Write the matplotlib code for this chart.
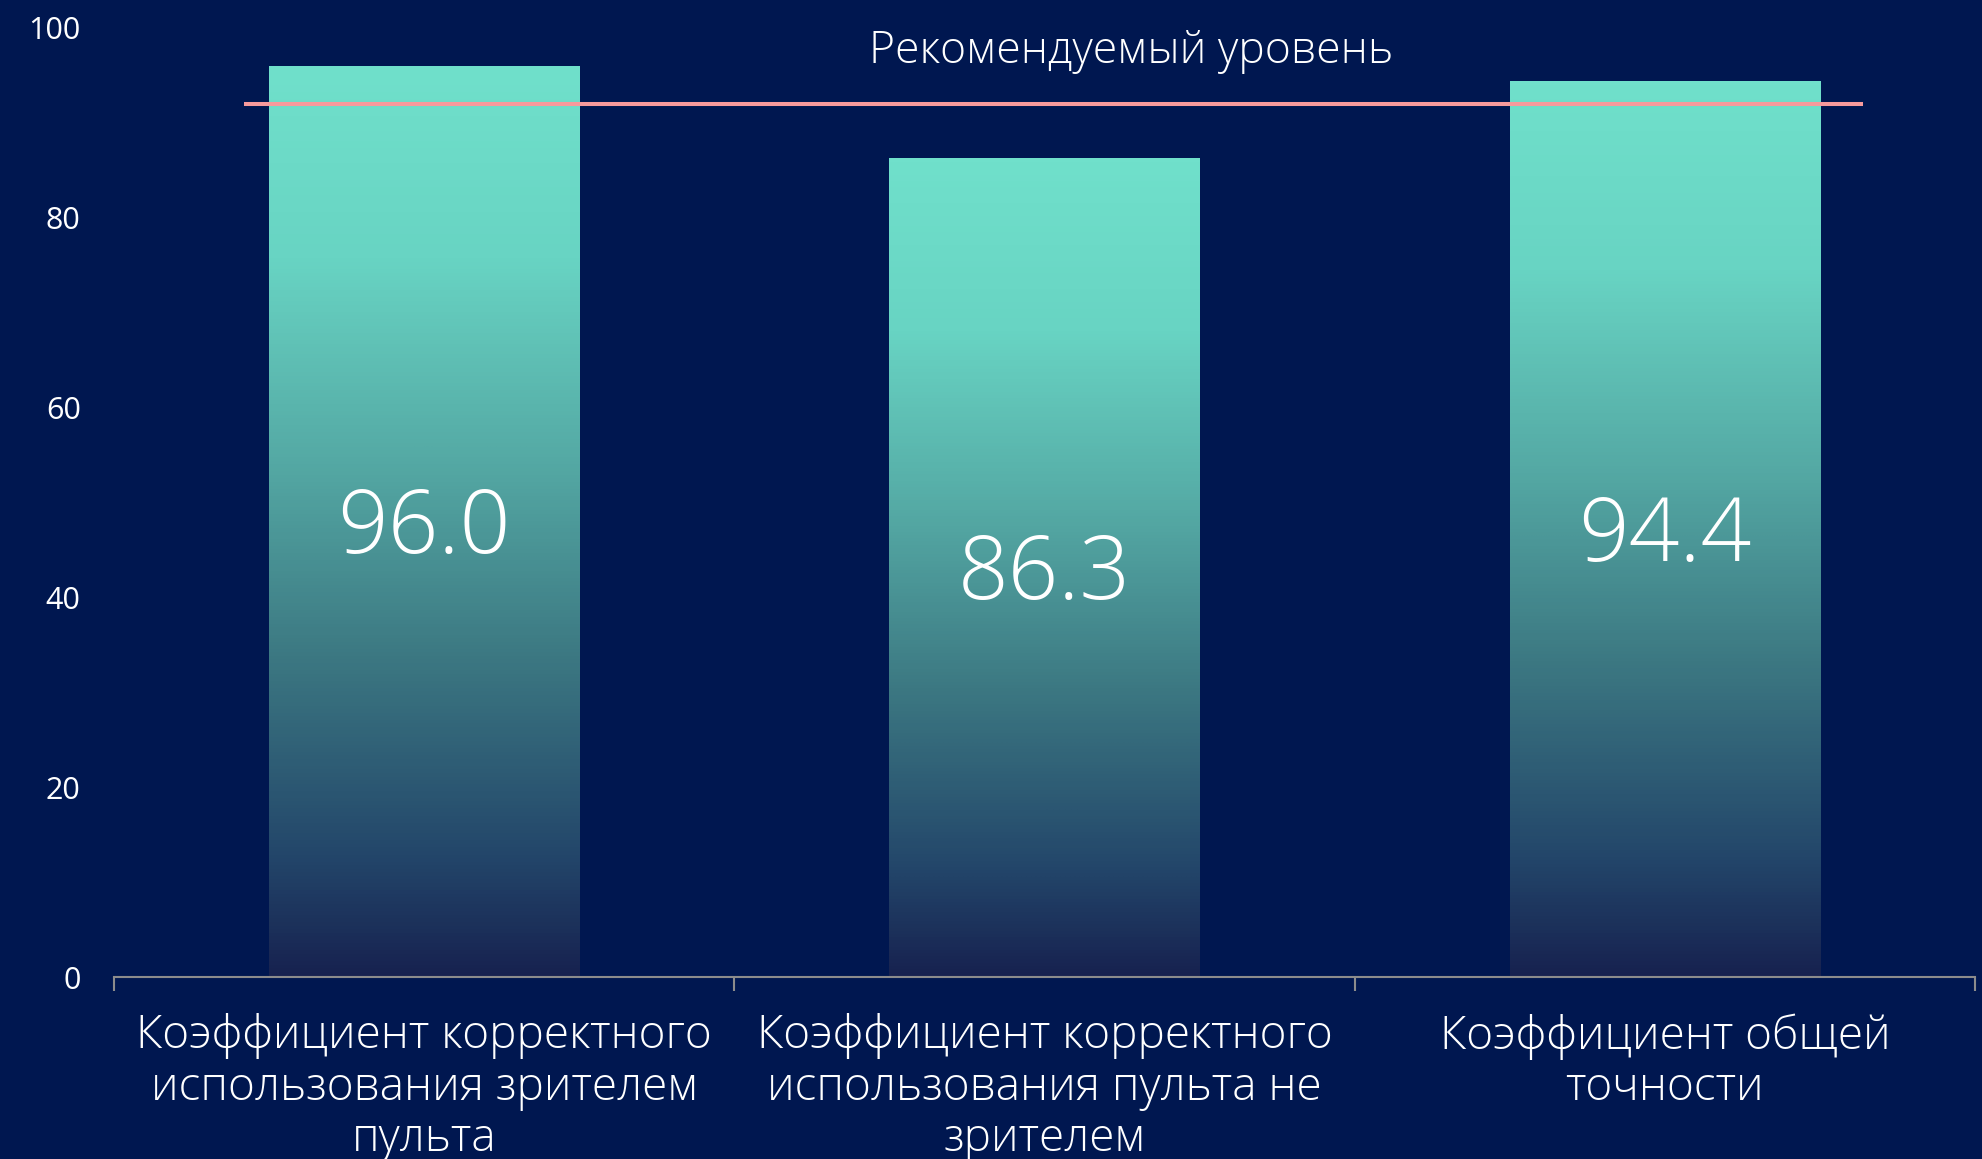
import numpy as np
import matplotlib
matplotlib.use("Agg")
import matplotlib.pyplot as plt
from matplotlib.colors import LinearSegmentedColormap
from matplotlib.patches import Rectangle

categories = [
    "Коэффициент корректного\nиспользования зрителем\nпульта",
    "Коэффициент корректного\nиспользования пульта не\nзрителем",
    "Коэффициент общей\nточности",
]
values      = [96.0, 86.3, 94.4]
ref_level   = 92.0
ref_label   = "Рекомендуемый уровень"
y_ticks     = [0, 20, 40, 60, 80, 100]

BG     = "#001750"
TEXT   = "#FFFFFF"
REF    = "#F79A9C"
AXIS   = "#8C8C8C"

plt.rcParams["font.family"] = ["Open Sans", "DejaVu Sans"]

# teal at the top of each bar fading into the navy background at the bottom
grad = LinearSegmentedColormap.from_list("bar", [
    (0.00, "#172250"),
    (0.13, "#23466A"),
    (0.35, "#3C7882"),
    (0.57, "#55AAA5"),
    (0.79, "#68D4C3"),
    (1.00, "#70E0CB"),
])

fig = plt.figure(figsize=(19.83, 11.59), dpi=100, facecolor=BG)
ax = fig.add_axes([0.0575, 0.157, 0.9385, 0.819], facecolor=BG)

BAR_W = 0.5
bars = ax.bar(range(len(values)), values, width=BAR_W, color="none", zorder=2)
g = np.linspace(0, 1, 256).reshape(-1, 1)
for i, (b, v) in enumerate(zip(bars, values)):
    x0 = b.get_x()
    im = ax.imshow(g, cmap=grad, origin="lower", aspect="auto",
                   extent=(x0, x0 + BAR_W, 0, v), zorder=2, interpolation="bilinear")
    im.set_clip_path(Rectangle((x0, 0), BAR_W, v, transform=ax.transData))
    # label sits in the middle of the bar (nudged for the text descent)
    ax.text(i, v / 2 - 0.9, f"{v:.1f}", ha="center", va="center", color=TEXT,
            fontsize=64, fontweight="light", zorder=4)

ax.hlines(ref_level, -0.29, 2.32, color=REF, linewidth=2.9, zorder=3)
ax.text(1.14, 97.5, ref_label, ha="center", va="center", color=TEXT,
        fontsize=32, fontweight="light", zorder=4)

ax.set_xlim(-0.5, 2.5)
ax.set_ylim(0, 100)
ax.set_yticks(y_ticks)
ax.set_yticklabels([str(t) for t in y_ticks])
ax.tick_params(axis="y", length=0, pad=24, labelsize=22, labelcolor=TEXT)

ax.set_xticks([-0.5, 0.5, 1.5, 2.5])
ax.set_xticklabels([])
ax.tick_params(axis="x", which="major", length=10, width=1.5, color=AXIS)
ax.set_xticks(range(len(categories)), minor=True)
ax.set_xticklabels(categories, minor=True, fontsize=33, color=TEXT,
                   linespacing=1.16, fontweight="light")
ax.tick_params(axis="x", which="minor", length=0, pad=26)

for s in ["top", "right", "left"]:
    ax.spines[s].set_visible(False)
ax.spines["bottom"].set_color(AXIS)
ax.spines["bottom"].set_linewidth(1.5)

fig.savefig("out.png", dpi=100, facecolor=BG)
